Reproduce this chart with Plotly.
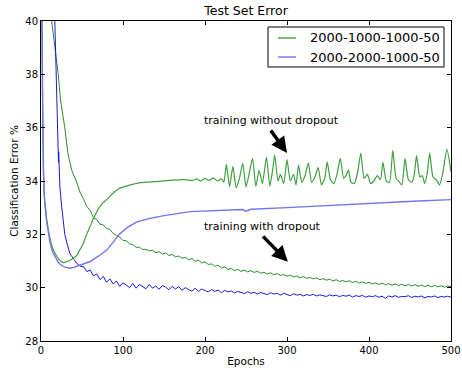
import plotly.graph_objects as go

# ---------------- data ----------------
# 2000-1000-1000-50, training without dropout (light green)
g_nodrop_epochs = [0, 1, 2, 3, 4, 7, 11, 14, 17, 21, 24, 27, 31, 35, 40, 43.5, 47, 51.6, 55, 60, 64, 68, 72, 76, 80, 88, 96, 105, 121,
                   140, 160, 175, 185, 190, 195, 200, 205, 210, 215,
                   220, 223, 226, 230, 234, 238, 242, 246, 250, 254, 258, 262, 266, 270, 275, 279, 282, 285, 289, 292, 296,
                   300, 304, 308, 311, 314, 318, 322, 326, 330, 334, 338, 342, 346, 349, 353, 357, 361, 365, 369, 372, 375,
                   378, 382, 386, 390, 394, 398, 402, 406, 410, 414, 417, 421, 425, 429, 433, 436, 440, 444, 448, 452, 455,
                   458, 462, 465, 468, 471, 474, 478, 482, 486, 490, 495, 500]
g_nodrop_values = [46.0, 40.3, 36.8, 34.4, 33.5, 32.55, 31.85, 31.5, 31.3, 31.1, 31.0, 30.94, 30.97, 31.02, 31.12, 31.2, 31.4, 31.66, 31.95, 32.3, 32.6, 32.85, 33.05, 33.2, 33.3, 33.55, 33.73, 33.82, 33.94,
                   33.98, 34.03, 34.05, 34.02, 34.08, 34.0, 34.1, 34.02, 34.12, 34.0,
                   34.08, 33.95, 34.62, 33.78, 34.55, 33.75, 34.1, 34.66, 33.78, 34.3, 34.85, 33.8, 34.4, 33.9, 34.9, 33.8, 34.3, 34.98, 34.0, 34.25, 33.9,
                   34.8, 34.0, 34.25, 33.85, 34.6, 33.95, 34.2, 34.68, 33.95, 34.15, 34.5, 33.85, 34.1, 34.72, 34.05, 33.9, 34.25, 34.85, 34.1, 34.2, 34.42,
                   33.95, 33.9, 34.3, 35.05, 34.1, 34.25, 33.9, 34.0, 34.2, 34.05, 34.7, 34.0, 33.95, 35.15, 34.1, 34.0, 33.85, 34.85, 34.05, 33.95, 34.2,
                   34.95, 34.15, 34.2, 33.9, 34.3, 35.05, 34.15, 34.05, 33.85, 34.3, 35.2, 34.35]

# 2000-2000-1000-50, training without dropout (light blue)
b_nodrop_epochs = [0, 1, 2, 3, 4, 7, 11, 14, 17, 21, 25, 30, 35, 40, 48, 60, 70, 80, 88, 94.5, 105, 117, 133, 150, 182, 220, 246, 250, 256,
                   300, 350, 377, 420, 460, 500]
b_nodrop_values = [46.0, 40.3, 36.8, 34.4, 33.4, 32.45, 31.7, 31.35, 31.15, 30.95, 30.83, 30.76, 30.73, 30.76, 30.85, 30.98, 31.18, 31.4, 31.7, 31.98, 32.25, 32.47, 32.6, 32.7, 32.85, 32.9, 32.93, 32.87, 32.94,
                   33.0, 33.08, 33.13, 33.2, 33.25, 33.3]

# 2000-1000-1000-50, training with dropout (dark green)
g_drop_epochs = [12, 13, 17, 21, 24, 29, 33, 37.5, 43, 48] + list(range(52, 501, 4))
g_drop_values = [41.0, 40.0, 39.0, 38.0, 37.0, 36.0, 35.0, 34.4, 34.0, 33.54,
                 33.32, 33.04, 32.90, 32.62, 32.56, 32.38, 32.35, 32.22, 32.18, 32.03,
                 31.96, 31.90, 31.77, 31.76, 31.64, 31.62, 31.51, 31.52, 31.43, 31.44,
                 31.38, 31.40, 31.31, 31.35, 31.26, 31.30, 31.21, 31.24, 31.15, 31.19,
                 31.10, 31.14, 31.05, 31.09, 30.99, 31.03, 30.93, 30.97, 30.87, 30.89,
                 30.80, 30.84, 30.74, 30.78, 30.68, 30.72, 30.64, 30.69, 30.61, 30.66,
                 30.59, 30.64, 30.57, 30.62, 30.54, 30.58, 30.51, 30.56, 30.48, 30.53,
                 30.46, 30.49, 30.43, 30.47, 30.40, 30.44, 30.37, 30.42, 30.35, 30.38,
                 30.33, 30.37, 30.30, 30.34, 30.28, 30.32, 30.25, 30.30, 30.23, 30.27,
                 30.22, 30.26, 30.19, 30.24, 30.17, 30.22, 30.16, 30.20, 30.14, 30.18,
                 30.12, 30.17, 30.11, 30.15, 30.09, 30.14, 30.08, 30.13, 30.07, 30.12,
                 30.06, 30.11, 30.05, 30.10, 30.04, 30.09, 30.03, 30.08, 30.03, 30.07,
                 30.02, 30.06, 30.04]

# 2000-2000-1000-50, training with dropout (dark blue)
b_drop_epochs = [16, 18, 19, 20, 21, 21.3, 21.6, 22, 23, 25, 27, 29, 31, 33, 35, 37, 40, 44, 48] + list(range(52, 501, 4))
b_drop_values = [41.0, 38.5, 37.0, 36.0, 35.2, 34.7, 35.1, 34.4, 33.8, 33.1, 32.5, 32.0, 31.75, 31.5, 31.3, 31.2, 31.05, 30.9, 30.8,
                 30.78, 30.60, 30.66, 30.44, 30.52, 30.30, 30.42, 30.20, 30.33, 30.14,
                 30.25, 30.05, 30.18, 30.10, 30.00, 30.16, 29.98, 30.12, 30.04, 29.96,
                 30.12, 29.98, 30.06, 29.94, 30.08, 30.02, 29.92, 30.05, 29.95, 30.04,
                 29.90, 30.00, 29.93, 29.87, 29.98, 29.86, 29.95, 29.90, 29.84, 29.93,
                 29.86, 29.91, 29.81, 29.90, 29.84, 29.88, 29.80, 29.86, 29.83, 29.78,
                 29.85, 29.79, 29.83, 29.76, 29.82, 29.78, 29.74, 29.81, 29.76, 29.79,
                 29.72, 29.79, 29.74, 29.70, 29.77, 29.72, 29.75, 29.69, 29.74, 29.71,
                 29.75, 29.69, 29.73, 29.70, 29.67, 29.73, 29.69, 29.72, 29.66, 29.71,
                 29.68, 29.72, 29.65, 29.70, 29.67, 29.71, 29.64, 29.69, 29.66, 29.70,
                 29.64, 29.68, 29.60, 29.69, 29.65, 29.70, 29.64, 29.67, 29.66, 29.70,
                 29.63, 29.68, 29.65, 29.69, 29.62, 29.67, 29.65, 29.69, 29.63, 29.67,
                 29.65, 29.68, 29.64]

legend_names = ["2000-1000-1000-50", "2000-2000-1000-50"]
x_ticks = [0, 100, 200, 300, 400, 500]
y_ticks = [28, 30, 32, 34, 36, 38, 40]

# ---------------- figure ----------------
GREEN = "rgb(62,160,62)"
GREEN_D = "rgb(40,140,40)"
BLUE_L = "rgb(115,115,240)"
BLUE_D = "rgb(25,25,225)"
FONT = "DejaVu Sans"

fig = go.Figure()
fig.add_trace(go.Scatter(x=g_drop_epochs, y=g_drop_values, mode="lines",
                         line=dict(color=GREEN_D, width=1), showlegend=False, hoverinfo="skip"))
fig.add_trace(go.Scatter(x=b_drop_epochs, y=b_drop_values, mode="lines",
                         line=dict(color=BLUE_D, width=1), showlegend=False, hoverinfo="skip"))
fig.add_trace(go.Scatter(x=g_nodrop_epochs, y=g_nodrop_values, mode="lines", name=legend_names[0],
                         line=dict(color=GREEN, width=1.2, shape="spline", smoothing=0.5), showlegend=False))
fig.add_trace(go.Scatter(x=b_nodrop_epochs, y=b_nodrop_values, mode="lines", name=legend_names[1],
                         line=dict(color=BLUE_L, width=1.4), showlegend=False))

axis_common = dict(showline=True, linecolor="black", linewidth=1, mirror="ticks",
                   ticks="inside", ticklen=4, tickcolor="black", showgrid=False, zeroline=False,
                   automargin=False, tickfont=dict(family=FONT, size=10, color="black"))
fig.update_xaxes(range=[0, 500], tickvals=x_ticks, ticktext=[str(v) for v in x_ticks],
                 title=dict(text="Epochs", font=dict(family=FONT, size=10.5, color="black"), standoff=2),
                 **axis_common)
fig.update_yaxes(range=[28, 40], tickvals=y_ticks, ticktext=[str(v) for v in y_ticks],
                 title=dict(text="Classification Error %", font=dict(family=FONT, size=10.5, color="black"), standoff=4),
                 **axis_common)

fig.update_layout(
    width=462, height=368,
    margin=dict(l=41, r=11, t=21, b=27),
    paper_bgcolor="white", plot_bgcolor="white",
    title=dict(text="Test Set Error", x=0.5, xref="paper", y=1 - 11 / 368, yref="container",
               xanchor="center", yanchor="middle", font=dict(family=FONT, size=12.5, color="black")),
    showlegend=False,
)

# legend box drawn in paper coordinates (matplotlib-style)
fig.add_shape(type="rect", xref="paper", yref="paper", x0=0.5537, x1=0.9829, y0=0.8563, y1=0.98125,
              line=dict(color="black", width=1), fillcolor="white", layer="above")
legend_colors = [GREEN, BLUE_L]
legend_rows_y = [0.9469, 0.8875]
for name, col, yy in zip(legend_names, legend_colors, legend_rows_y):
    fig.add_shape(type="line", xref="paper", yref="paper", x0=0.578, x1=0.622, y0=yy, y1=yy,
                  line=dict(color=col, width=1.4), layer="above")
    fig.add_annotation(xref="paper", yref="paper", x=0.6537, y=yy, text=name, showarrow=False,
                       xanchor="left", yanchor="middle", borderpad=0,
                       font=dict(family=FONT, size=13, color="black"))

# annotations
fig.add_annotation(x=200, y=36.0, text="training without dropout", showarrow=False, xanchor="left", yanchor="bottom",
                   font=dict(family=FONT, size=11, color="black"), borderpad=0, xshift=-2)
fig.add_annotation(x=300, y=35.05, ax=279, ay=35.95, axref="x", ayref="y", xref="x", yref="y", text="",
                   showarrow=True, arrowhead=2, arrowsize=0.9, arrowwidth=3.5, arrowcolor="black")
fig.add_annotation(x=200, y=32.0, text="training with dropout", showarrow=False, xanchor="left", yanchor="bottom",
                   font=dict(family=FONT, size=11, color="black"), borderpad=0, xshift=-2)
fig.add_annotation(x=301, y=30.97, ax=269, ay=31.98, axref="x", ayref="y", xref="x", yref="y", text="",
                   showarrow=True, arrowhead=2, arrowsize=0.9, arrowwidth=3.5, arrowcolor="black")

fig.write_html("out.html", config={"displayModeBar": False},
               post_script="document.body.style.margin='0px';document.body.style.padding='0px';")
